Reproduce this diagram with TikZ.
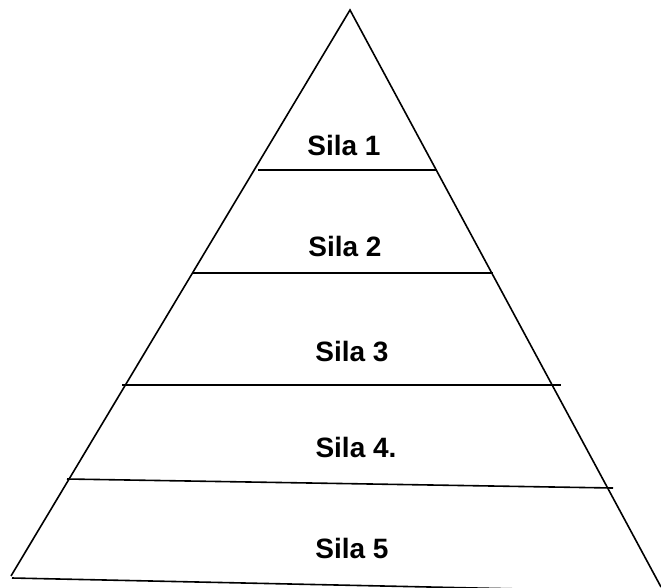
\documentclass[tikz,border=0pt]{standalone}
\usepackage{fontspec}
\setmainfont{Liberation Sans}
\begin{document}
\begin{tikzpicture}[x=1pt,y=-1pt,
  edge/.style={line width=1.6pt,black},
  lbl/.style={font=\fontsize{28}{30}\selectfont\bfseries,anchor=base,inner sep=0pt}]
\useasboundingbox (0,0) rectangle (661,587);
\coordinate (apex) at (350,10);
\coordinate (bl) at (11,576);
\coordinate (br) at (661,587);
\draw[edge] (bl) -- (apex) -- (br);
\coordinate (b0l) at (12,578); \coordinate (b0r) at (661,592);
\draw[edge] (b0l) -- (b0r);
\coordinate (l1a) at (258,170); \coordinate (l1b) at (437,170);
\coordinate (l2a) at (193,273); \coordinate (l2b) at (493,273);
\coordinate (l3a) at (122,385); \coordinate (l3b) at (561,385);
\coordinate (l4a) at (67,479); \coordinate (l4b) at (613,488);
\draw[edge] (l1a) -- (l1b);
\draw[edge] (l2a) -- (l2b);
\draw[edge] (l3a) -- (l3b);
\draw[edge] (l4a) -- (l4b);
\node[lbl] (s1) at (344,155) {Sila 1};
\node[lbl] (s2) at (345,256) {Sila 2};
\node[lbl] (s3) at (352,361) {Sila 3};
\node[lbl] (s4) at (356,457) {Sila 4.};
\node[lbl] (s5) at (352,558) {Sila 5};
\end{tikzpicture}
\end{document}
